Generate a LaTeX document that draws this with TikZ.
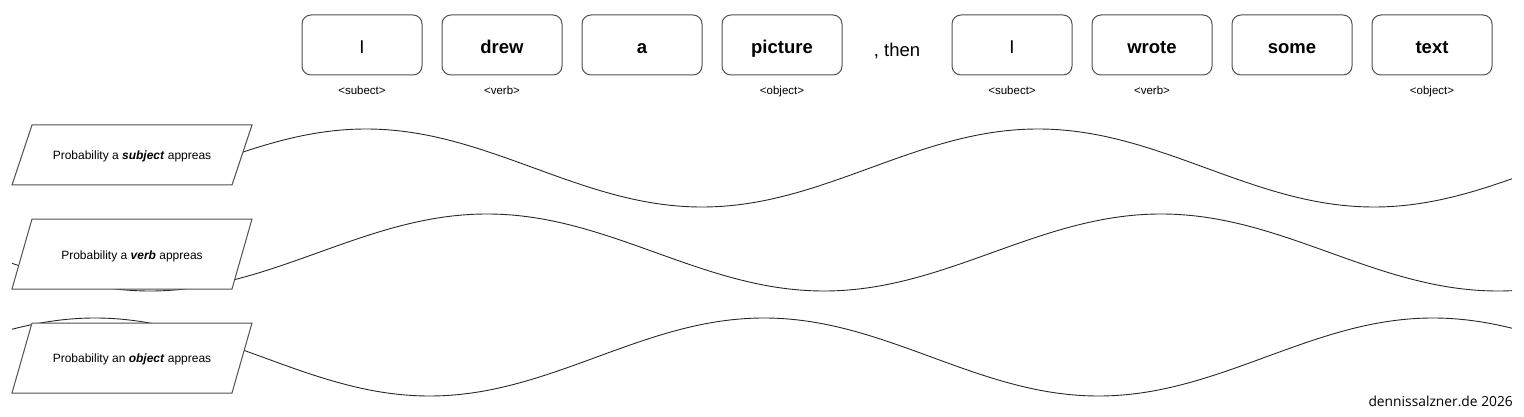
\documentclass[tikz,border=0pt]{standalone}
\usepackage{fontspec}
\setmainfont{Liberation Sans}
\newfontfamily\footfont{Open Sans}
\definecolor{boxline}{RGB}{80,80,80}
\definecolor{waveline}{RGB}{40,40,40}
\begin{document}
\begin{tikzpicture}[x=1pt,y=-1pt,
  wordbox/.style={draw=boxline,line width=1pt,rounded corners=9pt,fill=white,
    minimum width=120pt,minimum height=60pt,inner sep=0pt,
    text height=16.6pt,text depth=0pt,font=\fontsize{18.5}{22}\selectfont},
  wordbold/.style={wordbox,font=\fontsize{18.5}{22}\selectfont\bfseries},
  tag/.style={anchor=base,inner sep=0pt,font=\fontsize{11.5}{13}\selectfont},
  para/.style={draw=boxline,line width=1pt,fill=white},
  paratext/.style={anchor=base,inner sep=0pt,font=\fontsize{12}{14}\selectfont},
  wave/.style={draw=waveline,line width=0.9pt}]
\useasboundingbox (0,0) rectangle (1524,417);

% waves (drawn first, boxes cover them)
\draw[wave] plot[domain=200:1512,samples=260,smooth] (\x,{168-39*cos(((\x-366)/672)*360)});
\draw[wave] plot[domain=12:1512,samples=300,smooth] (\x,{252.5-38.5*cos(((\x-487)/674)*360)});
\draw[wave] plot[domain=12:1512,samples=300,smooth] (\x,{357-39*cos(((\x-95)/669)*360)});

% word boxes
\node[wordbox]  (w1) at (362,45) {I};
\node[wordbold] (w2) at (502,45) {drew};
\node[wordbold] (w3) at (642,45) {a};
\node[wordbold] (w4) at (782,45) {picture};
\node[anchor=base,inner sep=0pt,font=\fontsize{18.5}{22}\selectfont] (then) at (897,57) {, then};
\node[wordbox]  (w5) at (1012,45) {I};
\node[wordbold] (w6) at (1152,45) {wrote};
\node[wordbold] (w7) at (1292,45) {some};
\node[wordbold] (w8) at (1432,45) {text};

% tags
\node[tag] (t1) at (362,95) {<subect>};
\node[tag] (t2) at (502,95) {<verb>};
\node[tag] (t4) at (782,95) {<object>};
\node[tag] (t5) at (1012,95) {<subect>};
\node[tag] (t6) at (1152,95) {<verb>};
\node[tag] (t8) at (1432,95) {<object>};

% parallelograms
\draw[para] (12,185) -- (232,185) -- (252,125) -- (32,125) -- cycle;
\node[paratext] (p1) at (132,160) {Probability a \textbf{\textit{subject}} appreas};
\draw[para] (12,289) -- (232,289) -- (252,219) -- (32,219) -- cycle;
\node[paratext] (p2) at (132,259) {Probability a \textbf{\textit{verb}} appreas};
\draw[para] (12,393) -- (232,393) -- (252,323) -- (32,323) -- cycle;
\node[paratext] (p3) at (132,362.3) {Probability an \textbf{\textit{object}} appreas};

% footer
\node[anchor=base east,inner sep=0pt,font=\footfont\fontsize{13.8}{16}\selectfont] (foot) at (1513,406.5) {dennissalzner.de 2026};
\end{tikzpicture}
\end{document}
